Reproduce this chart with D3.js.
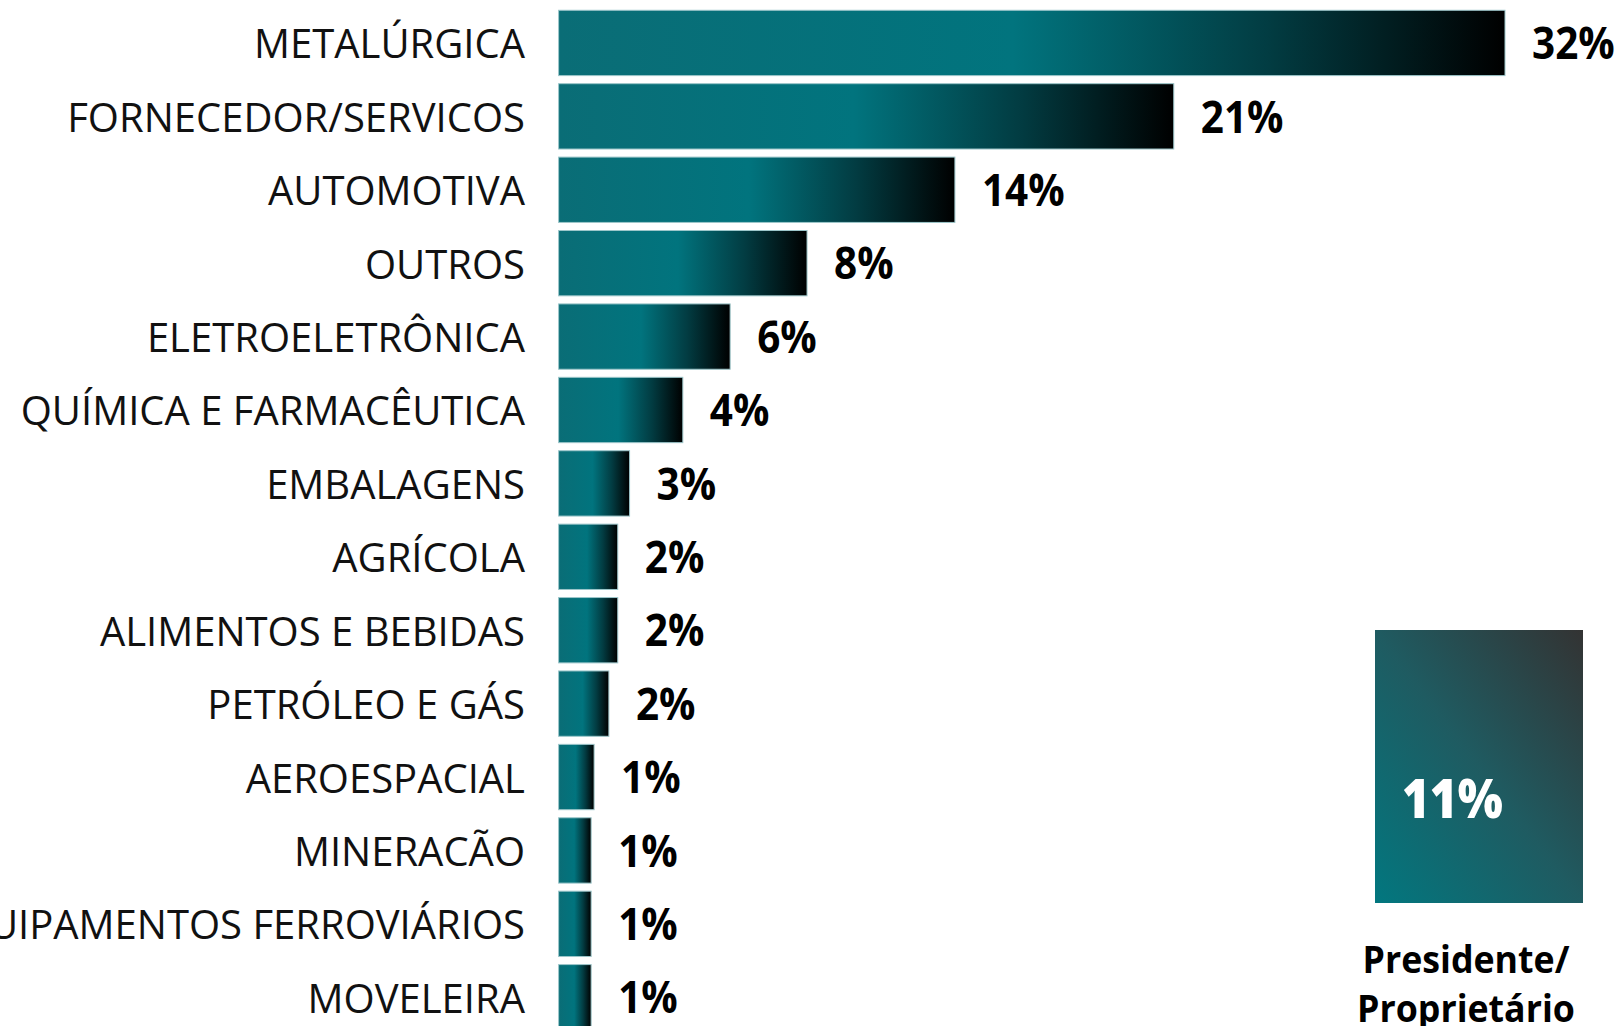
<!DOCTYPE html>
<html lang="pt">
<head>
<meta charset="utf-8">
<script src="https://d3js.org/d3.v7.min.js"></script>
<style>
  body { margin: 0; background: #fff; }
  svg { display: block; }
</style>
</head>
<body>
<div id="chart"></div>
<script>
    // categories, bar values (estimated) and the printed labels
    var sectors = ["METALÚRGICA", "FORNECEDOR/SERVICOS", "AUTOMOTIVA", "OUTROS",
        "ELETROELETRÔNICA", "QUÍMICA E FARMACÊUTICA", "EMBALAGENS", "AGRÍCOLA",
        "ALIMENTOS E BEBIDAS", "PETRÓLEO E GÁS", "AEROESPACIAL", "MINERACÃO",
        "EQUIPAMENTOS FERROVIÁRIOS", "MOVELEIRA"];
    var shares = [32, 20.8, 13.4, 8.4, 5.8, 4.2, 2.4, 2.0, 2.0, 1.7, 1.2, 1.1, 1.1, 1.1];
    var shareLabels = ["32%", "21%", "14%", "8%", "6%", "4%", "3%", "2%", "2%", "2%", "1%", "1%", "1%", "1%"];

    // side card
    var cardValue = "11%";
    var cardCaption = ["Presidente/", "Proprietário"];

    var width = 1622, height = 1026;

    var svg = d3.select("#chart")
      .append("svg")
        .attr("width", width)
        .attr("height", height);

    var defs = svg.append("defs");

    // horizontal gradient for bars (teal -> black)
    var barGrad = defs.append("linearGradient")
        .attr("id", "barGrad")
        .attr("x1", "0%").attr("y1", "0%")
        .attr("x2", "100%").attr("y2", "0%");
    barGrad.append("stop").attr("offset", "0%").attr("stop-color", "#0a6d76");
    barGrad.append("stop").attr("offset", "48%").attr("stop-color", "#01747e");
    barGrad.append("stop").attr("offset", "75%").attr("stop-color", "#023c42");
    barGrad.append("stop").attr("offset", "100%").attr("stop-color", "#000000");

    // diagonal gradient for the card
    var cardGrad = defs.append("linearGradient")
        .attr("id", "cardGrad")
        .attr("x1", "0%").attr("y1", "100%")
        .attr("x2", "100%").attr("y2", "0%");
    cardGrad.append("stop").attr("offset", "0%").attr("stop-color", "#02777f");
    cardGrad.append("stop").attr("offset", "50%").attr("stop-color", "#1f5b61");
    cardGrad.append("stop").attr("offset", "100%").attr("stop-color", "#333333");

    var y = d3.scaleBand()
        .domain(sectors)
        .range([2.2, 1038])
        .padding(0.11);

    var x = d3.scaleLinear()
        .domain([0, 32])
        .range([558.6, 1505]);

    var rows = sectors.map(function(s, i) {
        return { sector: s, value: shares[i], label: shareLabels[i] };
    });

    // bars
    svg.append("g").selectAll("rect")
      .data(rows)
      .enter().append("rect")
        .attr("x", x(0))
        .attr("y", function(d) { return y(d.sector); })
        .attr("width", function(d) { return x(d.value) - x(0); })
        .attr("height", y.bandwidth())
        .attr("fill", "url(#barGrad)")
        .attr("stroke", "#9cc6ca")
        .attr("stroke-width", 1);

    // category labels
    svg.append("g").selectAll("text")
      .data(rows)
      .enter().append("text")
        .attr("transform", function(d) {
            return "translate(525," + (y(d.sector) + y.bandwidth() / 2) + ")";
        })
        .attr("text-anchor", "end")
        .attr("dominant-baseline", "central")
        .style("font-family", "'Open Sans', sans-serif")
        .style("font-weight", "400")
        .style("font-size", "40px")
        .style("fill", "#111")
        .text(function(d) { return d.sector; });

    // value labels (condensed bold in the source)
    svg.append("g").selectAll("text")
      .data(rows)
      .enter().append("text")
        .attr("transform", function(d) {
            return "translate(" + (x(d.value) + 27) + "," + (y(d.sector) + y.bandwidth() / 2 - 1) + ") scale(0.92,1)";
        })
        .attr("dominant-baseline", "central")
        .style("font-family", "'Open Sans', sans-serif")
        .style("font-weight", "700")
        .style("font-size", "44px")
        .style("fill", "#000")
        .text(function(d) { return d.label; });

    // card on the right
    svg.append("rect")
        .attr("x", 1375)
        .attr("y", 630)
        .attr("width", 208)
        .attr("height", 273)
        .attr("fill", "url(#cardGrad)");

    svg.append("text")
        .attr("transform", "translate(1402,797) scale(0.88,1)")
        .attr("dominant-baseline", "central")
        .style("font-family", "'Open Sans', sans-serif")
        .style("font-weight", "800")
        .style("font-size", "54px")
        .style("fill", "#fff")
        .text(cardValue);

    svg.append("g").selectAll("text")
      .data(cardCaption)
      .enter().append("text")
        .attr("transform", function(d, i) {
            return "translate(1466," + (973 + i * 49) + ") scale(0.94,1)";
        })
        .attr("text-anchor", "middle")
        .style("font-family", "'Open Sans', sans-serif")
        .style("font-weight", "700")
        .style("font-size", "38px")
        .style("fill", "#000")
        .text(function(d) { return d; });
</script>
</body>
</html>
